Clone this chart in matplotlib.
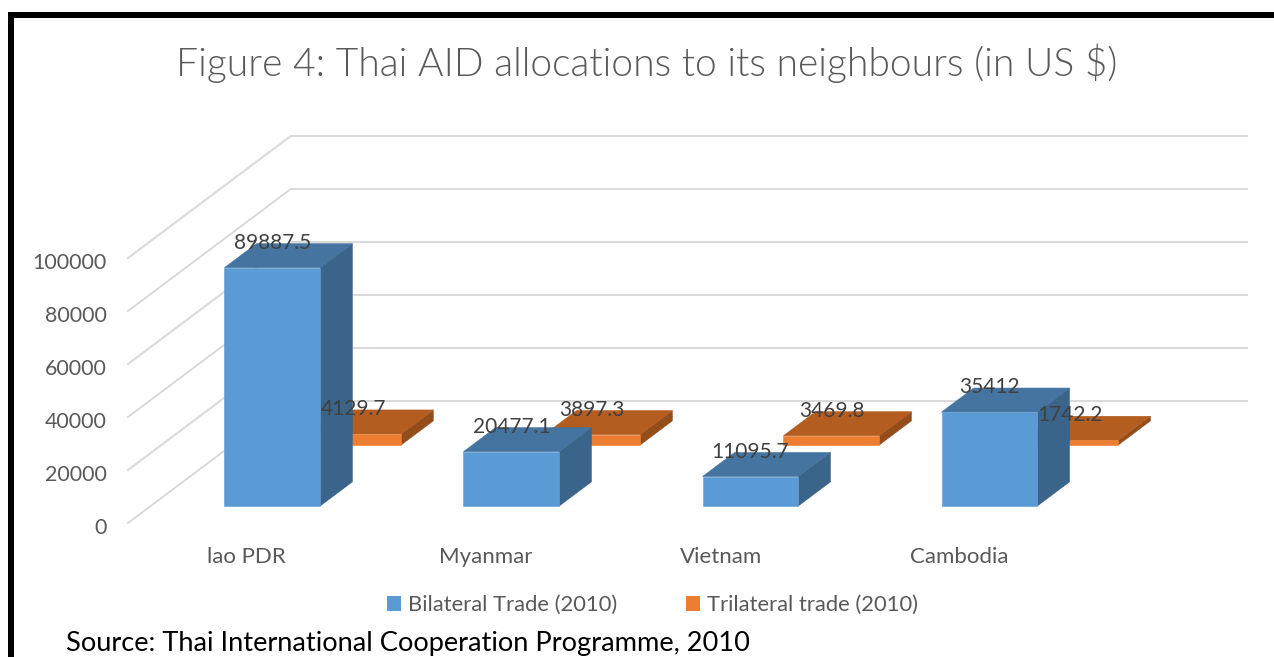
import matplotlib
matplotlib.use('Agg')
import matplotlib.pyplot as plt
from matplotlib.patches import Patch, Polygon, Rectangle
from matplotlib.transforms import ScaledTranslation

matplotlib.rc('font', family=['Lato', 'DejaVu Sans'])

categories = ['lao PDR', 'Myanmar', 'Vietnam', 'Cambodia']
bilateral = [89887.5, 20477.1, 11095.7, 35412]
trilateral = [4129.7, 3897.3, 3469.8, 1742.2]
bilateral_labels = ['89887.5', '20477.1', '11095.7', '35412']
trilateral_labels = ['4129.7', '3897.3', '3469.8', '1742.2']
value_ticks = [0, 20000, 40000, 60000, 80000, 100000]
category_ticks = [0.497, 1.496, 2.482, 3.477]

W, H = 1274, 657

# oblique depth axis: how far z=1 shifts a point, in category and value units
DEPTH_X = 0.681
DEPTH_Y = 46038
BAR_W = 0.401
BAR_D = 0.197


def project(x, v, z):
  return (x + z * DEPTH_X, v + z * DEPTH_Y)


def draw_box(ax, x, v, z, front, top, side, zorder):
  fl = project(x, 0, z)
  fr = project(x + BAR_W, 0, z)
  tl = project(x, v, z)
  tr = project(x + BAR_W, v, z)
  bl = project(x, v, z + BAR_D)
  br = project(x + BAR_W, v, z + BAR_D)
  br0 = project(x + BAR_W, 0, z + BAR_D)
  ax.add_patch(Polygon([fr, tr, br, br0], fc=side, ec=side, lw=0.4, zorder=zorder, clip_on=False))
  ax.add_patch(Polygon([tl, tr, br, bl], fc=top, ec=top, lw=0.4, zorder=zorder, clip_on=False))
  ax.add_patch(Polygon([fl, fr, tr, tl], fc=front, ec=front, lw=0.4, zorder=zorder + 0.1, clip_on=False))


def main():
  fig = plt.figure(figsize=(W / 100, H / 100), dpi=100, facecolor='white')
  ax = fig.add_axes([128 / W, 1 - 523 / H, 1119 / W, 387 / H])
  ax.set_xlim(0, len(categories) + DEPTH_X)
  ax.set_ylim(0, value_ticks[-1] + DEPTH_Y)
  ax.patch.set_visible(False)
  for s in ax.spines.values():
    s.set_visible(False)

  # wall and back gridlines
  for v in value_ticks:
    pts = [project(0, v, 0), project(0, v, 1), project(len(categories), v, 1)]
    ax.plot([p[0] for p in pts], [p[1] for p in pts], color='#d9d9d9', lw=1.4, zorder=1, clip_on=False)

  # back row first so the front row hides it
  for i, v in enumerate(trilateral):
    draw_box(ax, i + 0.306, v, 0.64, '#ed7d31', '#b35d20', '#934d1a', 2 + i * 0.2)
  for i, v in enumerate(bilateral):
    draw_box(ax, i + 0.308, v, 0.14, '#5b9bd5', '#44749f', '#3a648a', 4 + i * 0.2)

  for i in range(len(categories)):
    for x0, z, v, txt in [(0.306, 0.64, trilateral[i], trilateral_labels[i]),
                          (0.308, 0.14, bilateral[i], bilateral_labels[i])]:
      ax.annotate(txt, xy=project(i + x0 + BAR_W / 2, v, z), xytext=(0, 18),
                  textcoords='offset points', ha='center', va='center',
                  fontsize=15, color='#404040', zorder=10, annotation_clip=False)

  ax.set_yticks(value_ticks)
  ax.set_xticks(category_ticks)
  ax.set_xticklabels(categories)
  ax.tick_params(axis='y', length=0, labelsize=15.4, labelcolor='#595959', pad=15.5)
  ax.tick_params(axis='x', length=0, labelsize=16, labelcolor='#595959', pad=17.5)
  shift = ScaledTranslation(0, -2.5 / 100, fig.dpi_scale_trans)
  for lbl in ax.get_yticklabels():
    lbl.set_transform(lbl.get_transform() + shift)

  fig.text(647 / W, 1 - 63 / H, 'Figure 4: Thai AID allocations to its neighbours (in US $)',
           ha='center', va='center', fontsize=28.1, color='#595959', fontweight=300)

  handles = [Patch(fc='#5b9bd5', label='Bilateral Trade (2010)'),
             Patch(fc='#ed7d31', label='Trilateral trade (2010)')]
  fig.legend(handles=handles, loc='center', bbox_to_anchor=(652.5 / W, 1 - 605 / H), ncol=2,
             frameon=False, fontsize=15.8, labelcolor='#595959', handlelength=0.65, handleheight=0.65,
             handletextpad=0.3, columnspacing=3.15)

  fig.text(66 / W, 1 - 644 / H, 'Source: Thai International Cooperation Programme, 2010',
           ha='left', va='center', fontsize=19.6, color='black')

  # black frame around the chart, open on the right and at the bottom
  fig.add_artist(Rectangle((8 / W, 1 - 18 / H), 1 - 8 / W, 6 / H, fc='black', ec='none', transform=fig.transFigure))
  fig.add_artist(Rectangle((8 / W, 0), 6 / W, 1 - 12 / H, fc='black', ec='none', transform=fig.transFigure))

  fig.savefig('out.png', dpi=100)


if __name__ == '__main__':
  main()
